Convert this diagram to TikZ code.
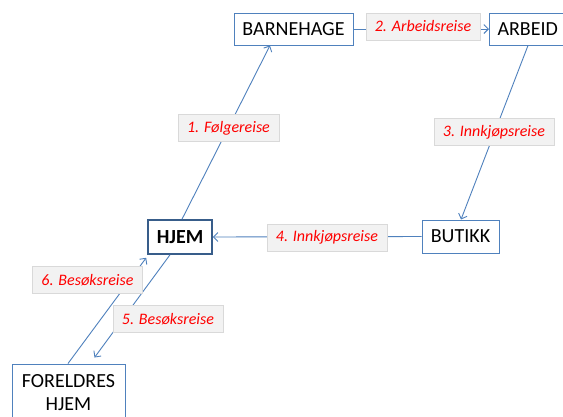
\documentclass[tikz,border=0pt]{standalone}
\usepackage{fontspec}
\setmainfont{Carlito}
\usetikzlibrary{arrows.meta}
\definecolor{boxblue}{HTML}{4F81BD}
\definecolor{darkblue}{HTML}{385D8A}
\definecolor{lblfill}{HTML}{F2F2F2}
\definecolor{lbldraw}{HTML}{D9D9D9}
\tikzset{
  place/.style={draw=boxblue, line width=1pt, fill=white, inner sep=0pt,
    minimum height=32pt, font=\fontsize{20}{23}\selectfont},
  homebox/.style={place, draw=darkblue, line width=1.6pt, font=\fontsize{20}{23}\selectfont\bfseries},
  trip/.style={fill=lblfill, draw=lbldraw, line width=0.6pt, text=red,
    inner xsep=9pt, inner ysep=0pt, minimum height=27pt,
    font=\fontsize{16}{19}\selectfont\itshape},
  link/.style={draw=boxblue, line width=0.9pt},
  arr/.style={link, -{Straight Barb[length=4.5pt,width=9pt,line width=0.9pt]}}
}
\begin{document}
\begin{tikzpicture}[x=1pt,y=-1pt]
\useasboundingbox (0,0) rectangle (563,416);
\clip (0,0) rectangle (563,416);
\fill[white] (0,0) rectangle (563,416);
% places
\node[place, minimum width=119pt] (barnehage) at (293.5,29) {BARNEHAGE};
\node[place, minimum width=77pt, anchor=west] (arbeid) at (489,29) {\hspace*{8pt}ARBEID\hspace*{11pt}};
\node[place, minimum width=77pt, minimum height=33pt] (butikk) at (460.5,236.5) {BUTIKK};
\node[homebox, minimum width=64pt, minimum height=34pt] (hjem) at (180,237) {HJEM};
\node[place, minimum width=113pt, minimum height=58pt, align=center,
  font=\fontsize{20}{23}\selectfont] (foreldre) at (68.5,393) {FORELDRES\\HJEM};
% connectors
\draw[arr] ([xshift=2pt]hjem.north) -- ([xshift=-23.5pt]barnehage.south);
\draw[arr] (barnehage.east) -- (arbeid.west);
\draw[arr] ([xshift=39pt]arbeid.south west) -- ([xshift=0.5pt]butikk.north);
\draw[arr] (butikk.west) -- (hjem.east);
\draw[arr] ([xshift=-10pt]hjem.south) -- ([xshift=83pt,yshift=6pt]foreldre.north west);
\draw[arr] ([xshift=-0.5pt]foreldre.north) -- ([xshift=-1pt,yshift=-3pt]hjem.south west);
% labels
\node[trip, minimum width=97pt] (l1) at (228.5,128) {1. Følgereise};
\node[trip, minimum width=110pt] (l2) at (423,26.5) {2. Arbeidsreise};
\node[trip, minimum width=116pt] (l3) at (494,132) {3. Innkjøpsreise};
\node[trip, minimum width=116pt] (l4) at (327,237.5) {4. Innkjøpsreise};
\node[trip, minimum width=107pt] (l5) at (168,319) {5. Besøksreise};
\node[trip, minimum width=105pt] (l6) at (87.5,280) {6. Besøksreise};
\end{tikzpicture}
\end{document}
